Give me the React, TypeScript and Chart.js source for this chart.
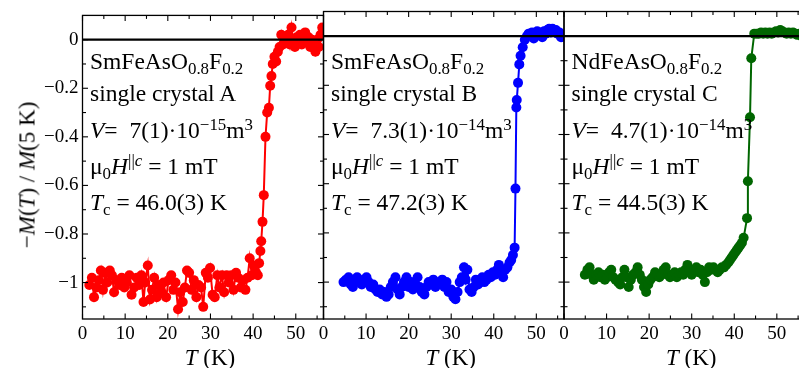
import React, { useEffect, useRef } from 'react';
import Chart from 'chart.js/auto';

// ---- data ----
const xTickValues = [0, 10, 20, 30, 40, 50];
const xTickLabels = ['0', '10', '20', '30', '40', '50'];
const xMinorValues = [5, 15, 25, 35, 45, 55];
const yTickValues = [0, -0.2, -0.4, -0.6, -0.8, -1];
const yTickLabels = ['0', '\u22120.2', '\u22120.4', '\u22120.6', '\u22120.8', '\u22121'];
const yMinorValues = [-0.1, -0.3, -0.5, -0.7, -0.9, -1.1];

const tA = [1.6, 2.2, 2.7, 3.3, 3.8, 4.3, 4.8, 5.3, 5.8, 6.4, 6.9, 7.4, 8.0, 8.6, 9.2, 9.8, 10.4, 11.0, 11.5, 12.1, 12.7, 13.3, 13.8, 14.3, 14.7, 15.3, 15.8, 16.3, 16.8, 17.4, 17.9, 18.5, 19.0, 19.6, 20.2, 20.8, 21.3, 21.8, 22.4, 22.9, 23.5, 24.0, 24.5, 25.0, 25.6, 26.1, 26.7, 27.2, 27.8, 28.3, 28.9, 29.4, 29.9, 30.5, 31.0, 31.6, 32.1, 32.7, 33.2, 33.8, 34.3, 34.9, 35.4, 36.0, 36.5, 37.1, 37.6, 38.2, 38.7, 39.2, 39.7, 40.2, 40.7, 41.1, 41.4, 41.7, 41.9, 42.2, 42.5, 42.9, 43.3, 43.7, 44.0, 44.3, 44.6, 45.0, 45.4, 45.8, 46.2, 46.6, 47.0, 47.4, 47.8, 48.2, 48.6, 49.0, 49.4, 49.8, 50.2, 50.6, 51.0, 51.4, 51.8, 52.2, 52.6, 53.0, 53.4, 53.8, 54.2, 54.6, 55.0, 55.4, 55.8, 56.2];
const mA = [-1.01, -0.98, -1.06, -1.02, -0.99, -0.95, -1.03, -0.96, -1.0, -0.95, -0.97, -1.04, -0.99, -1.01, -0.98, -1.02, -1.0, -0.97, -1.05, -1.02, -0.98, -1.01, -0.97, -1.08, -1.0, -0.93, -1.07, -1.03, -0.98, -1.06, -1.01, -1.04, -1.0, -1.06, -0.99, -0.97, -1.03, -1.0, -1.11, -1.04, -1.08, -1.02, -0.95, -0.96, -1.03, -0.99, -1.06, -1.01, -1.02, -1.1, -0.96, -0.98, -0.94, -1.05, -1.06, -0.97, -1.02, -0.97, -1.04, -0.97, -1.0, -0.97, -1.03, -0.96, -0.98, -1.02, -0.99, -1.03, -0.98, -0.9, -0.97, -0.93, -0.96, -0.97, -0.92, -0.87, -0.83, -0.75, -0.64, -0.4, -0.3, -0.28, -0.19, -0.15, -0.1, -0.07, -0.09, -0.05, -0.03, 0.02, -0.02, 0.01, -0.01, 0.02, -0.02, 0.05, 0.0, -0.03, 0.01, -0.01, 0.02, -0.02, 0.0, 0.03, -0.01, 0.01, -0.03, 0.0, -0.02, -0.05, 0.0, -0.03, 0.02, 0.05];

const tB = [4.7, 5.3, 5.9, 6.4, 6.9, 7.4, 7.9, 8.5, 9.0, 9.5, 10.1, 10.6, 11.1, 11.7, 12.2, 12.7, 13.2, 13.8, 14.3, 14.8, 15.3, 15.8, 16.3, 16.9, 17.4, 17.9, 18.4, 18.9, 19.5, 20.0, 20.5, 21.0, 21.6, 22.1, 22.6, 23.1, 23.7, 24.2, 24.7, 25.2, 25.8, 26.3, 26.8, 27.3, 27.9, 28.4, 28.9, 29.4, 30.0, 30.5, 31.0, 31.5, 32.0, 32.5, 33.0, 33.4, 33.8, 34.3, 34.8, 35.3, 35.8, 36.3, 36.8, 37.3, 37.8, 38.3, 38.8, 39.3, 39.8, 40.3, 40.8, 41.2, 41.7, 42.2, 42.7, 43.2, 43.7, 44.1, 44.5, 44.9, 45.1, 45.3, 45.4, 45.7, 46.0, 46.3, 46.8, 47.3, 47.8, 48.2, 48.6, 49.0, 49.4, 49.8, 50.2, 50.6, 51.0, 51.4, 51.8, 52.2, 52.6, 53.0, 53.4, 53.8, 54.2, 54.6, 55.0, 55.4, 55.8, 56.2];
const mB = [-1.0, -0.99, -0.98, -1.01, -1.02, -0.99, -0.98, -1.0, -1.01, -0.99, -0.98, -1.0, -1.02, -1.01, -1.03, -1.04, -1.03, -1.05, -1.04, -1.06, -1.05, -1.02, -1.0, -0.98, -1.03, -1.05, -1.02, -1.0, -0.98, -1.02, -1.0, -1.03, -1.01, -0.98, -1.02, -1.04, -1.05, -1.02, -1.0, -1.01, -0.99, -1.02, -1.01, -1.0, -0.99, -1.02, -1.0, -1.04, -1.03, -1.06, -1.07, -1.04, -1.0, -0.98, -0.94, -0.99, -0.95, -1.03, -1.04, -1.02, -0.99, -1.01, -1.0, -0.98, -1.0, -0.99, -0.97, -0.98, -0.96, -0.97, -0.95, -0.93, -0.96, -0.98, -0.95, -0.94, -0.92, -0.91, -0.89, -0.86, -0.62, -0.29, -0.26, -0.19, -0.115, -0.08, -0.045, -0.015, 0.0, 0.01, 0.005, 0.015, -0.01, 0.01, 0.02, 0.005, 0.015, -0.005, 0.02, 0.01, 0.025, 0.03, 0.015, 0.03, 0.02, 0.025, 0.01, 0.015, -0.005, 0.0];

const tC = [4.9, 5.5, 6.0, 6.5, 7.0, 7.5, 8.1, 8.6, 9.1, 9.6, 10.1, 10.6, 11.1, 11.6, 12.1, 12.7, 13.2, 13.7, 14.2, 14.7, 15.2, 15.7, 16.2, 16.8, 17.3, 17.8, 18.3, 18.8, 19.3, 19.8, 20.3, 20.8, 21.4, 21.9, 22.4, 22.9, 23.4, 23.9, 24.4, 24.9, 25.5, 26.0, 26.5, 27.0, 27.5, 28.0, 28.5, 29.0, 29.5, 30.0, 30.6, 31.1, 31.6, 32.1, 32.6, 33.1, 33.6, 34.1, 34.6, 35.1, 35.6, 36.1, 36.6, 37.1, 37.6, 38.1, 38.6, 39.0, 39.4, 39.8, 40.2, 40.6, 41.0, 41.4, 41.8, 42.2, 43.0, 43.2, 43.7, 44.0, 44.7, 45.3, 45.8, 46.3, 46.8, 47.3, 47.8, 48.3, 48.8, 49.3, 49.8, 50.3, 50.8, 51.3, 51.8, 52.3, 52.8, 53.3, 53.8, 54.3, 54.8, 55.3, 55.8, 56.3];
const mC = [-0.97, -0.95, -0.94, -0.97, -0.99, -0.97, -0.96, -0.98, -0.97, -0.99, -0.98, -0.96, -0.95, -0.98, -0.99, -1.0, -1.01, -0.98, -0.95, -0.98, -1.02, -0.99, -0.97, -0.96, -0.94, -0.97, -0.99, -1.02, -1.04, -1.01, -0.99, -0.98, -0.96, -0.97, -0.98, -0.97, -0.95, -0.94, -0.97, -0.98, -0.97, -0.96, -0.98, -0.97, -0.96, -0.97, -0.95, -0.93, -0.95, -0.97, -0.95, -0.94, -0.96, -0.95, -0.97, -1.0, -0.96, -0.94, -0.95, -0.94, -0.95, -0.96, -0.95, -0.94, -0.94, -0.93, -0.92, -0.91, -0.9, -0.89, -0.88, -0.87, -0.86, -0.85, -0.84, -0.82, -0.74, -0.59, -0.33, -0.09, 0.01, 0.01, 0.01, 0.015, 0.01, 0.015, 0.01, 0.015, 0.01, 0.015, 0.02, 0.015, 0.025, 0.02, 0.015, 0.01, 0.015, 0.01, 0.015, 0.01, 0.005, 0.01, 0.0, 0.005];

// ---- layout ----
const W = 810;
const H = 368;
const X_MIN = 0;
const X_MAX = 56.5;
const Y_MIN = -1.15;
const Y_MAX = 0.1;
const SERIF = '"Liberation Serif", "Times New Roman", serif';

const panels = [
  { t: tA, m: mA, color: '#ff0000', left: 82.5, right: 323.5, showY: true },
  { t: tB, m: mB, color: '#0000ff', left: 323.5, right: 564, showY: false },
  { t: tC, m: mC, color: '#006600', left: 564, right: 804.5, showY: false },
];

const framePlugin = {
  id: 'frameTicks',
  afterDatasetsDraw(chart: any) {
    const { ctx, chartArea, scales } = chart;
    const { left, right, top, bottom } = chartArea;
    const x = scales.x;
    const y = scales.y;
    ctx.save();
    ctx.strokeStyle = '#000';
    const seg = (x1: number, y1: number, x2: number, y2: number) => {
      ctx.beginPath();
      ctx.moveTo(x1, y1);
      ctx.lineTo(x2, y2);
      ctx.stroke();
    };
    // zero line
    ctx.lineWidth = 2.2;
    const y0 = y.getPixelForValue(0);
    seg(left, y0, right, y0);
    // frame
    ctx.lineWidth = 1.3;
    ctx.strokeRect(left, top, right - left, bottom - top);
    const MAJ = 5.5;
    const MIN = 3.5;
    ctx.lineWidth = 1.1;
    xTickValues.forEach((v) => {
      const p = x.getPixelForValue(v);
      seg(p, bottom, p, bottom - MAJ);
      seg(p, top, p, top + MAJ);
    });
    xMinorValues.forEach((v) => {
      const p = x.getPixelForValue(v);
      seg(p, bottom, p, bottom - MIN);
      seg(p, top, p, top + MIN);
    });
    yTickValues.forEach((v) => {
      const p = y.getPixelForValue(v);
      seg(left, p, left + MAJ, p);
      seg(right, p, right - MAJ, p);
    });
    yMinorValues.forEach((v) => {
      const p = y.getPixelForValue(v);
      seg(left, p, left + MIN, p);
      seg(right, p, right - MIN, p);
    });
    ctx.restore();
  },
};

function makeConfig(p: (typeof panels)[number]): any {
  return {
    type: 'scatter',
    data: {
      datasets: [
        {
          data: p.t.map((tv, i) => ({ x: tv, y: p.m[i] })),
          showLine: true,
          borderColor: p.color,
          backgroundColor: p.color,
          borderWidth: 2,
          pointRadius: 5,
          pointBorderWidth: 0,
          pointHoverRadius: 5,
          clip: 0,
        },
      ],
    },
    options: {
      animation: false,
      responsive: false,
      devicePixelRatio: 1,
      events: [],
      layout: {
        padding: { left: p.showY ? 0 : p.left, right: W - p.right, top: 11.5, bottom: 0 },
      },
      plugins: { legend: { display: false }, tooltip: { enabled: false } },
      scales: {
        x: {
          type: 'linear',
          min: X_MIN,
          max: X_MAX,
          afterBuildTicks: (s: any) => {
            s.ticks = xTickValues.map((v) => ({ value: v }));
          },
          afterFit: (s: any) => {
            s.height = 49;
          },
          ticks: {
            callback: (v: number) => xTickLabels[xTickValues.indexOf(v)] ?? '',
            font: { family: SERIF, size: 19 },
            color: '#000',
            padding: 4,
            maxRotation: 0,
            autoSkip: false,
          },
          grid: { display: false, drawTicks: false },
          border: { display: false },
        },
        y: {
          type: 'linear',
          min: Y_MIN,
          max: Y_MAX,
          afterBuildTicks: (s: any) => {
            s.ticks = yTickValues.map((v) => ({ value: v }));
          },
          afterFit: (s: any) => {
            s.width = p.showY ? p.left : 0;
          },
          ticks: {
            display: p.showY,
            callback: (v: number) => yTickLabels[yTickValues.indexOf(v)] ?? '',
            font: { family: SERIF, size: 19 },
            color: '#000',
            padding: 4,
            autoSkip: false,
          },
          grid: { display: false, drawTicks: false },
          border: { display: false },
        },
      },
    },
    plugins: [framePlugin],
  };
}

const FS = 23.5;
const BASE = 0.8375; // baseline offset (em) for line-height 1
const lineBaselines = [69.5, 102, 139, 175, 211];

const Sub = ({ children }: any) => (
  <span style={{ fontSize: '0.72em', position: 'relative', top: '0.28em' }}>{children}</span>
);
const Sup = ({ children }: any) => (
  <span style={{ fontSize: '0.72em', position: 'relative', top: '-0.5em' }}>{children}</span>
);

const panelTexts = [
  {
    compound: ['SmFeAsO', 'F'],
    crystal: 'single crystal A',
    volume: '7(1)\u00b710',
    volExp: '\u221215',
    tc: '46.0(3) K',
  },
  {
    compound: ['SmFeAsO', 'F'],
    crystal: 'single crystal B',
    volume: '7.3(1)\u00b710',
    volExp: '\u221214',
    tc: '47.2(3) K',
  },
  {
    compound: ['NdFeAsO', 'F'],
    crystal: 'single crystal C',
    volume: '4.7(1)\u00b710',
    volExp: '\u221214',
    tc: '44.5(3) K',
  },
];

function PanelText({ idx }: { idx: number }) {
  const p = panels[idx];
  const tx = panelTexts[idx];
  const left = p.left + 7.5;
  const lines = [
    <>
      {tx.compound[0]}
      <Sub>0.8</Sub>
      {tx.compound[1]}
      <Sub>0.2</Sub>
    </>,
    <>{tx.crystal}</>,
    <>
      <i>V</i>={'\u00a0 '}
      {tx.volume}
      <Sup>{tx.volExp}</Sup>m<Sup>3</Sup>
    </>,
    <>
      {'\u03bc'}
      <Sub>0</Sub>
      <i>H</i>
      <Sup>
        ||<i>c</i>
      </Sup>{' '}
      = 1 mT
    </>,
    <>
      <i>T</i>
      <Sub>c</Sub> = {tx.tc}
    </>,
  ];
  return (
    <>
      {lines.map((ln, i) => (
        <div
          key={i}
          style={{
            position: 'absolute',
            left,
            top: lineBaselines[i] - BASE * FS,
            fontFamily: SERIF,
            fontSize: FS,
            lineHeight: 1,
            whiteSpace: 'nowrap',
            color: '#000',
          }}
        >
          {ln}
        </div>
      ))}
    </>
  );
}

export default function App() {
  const r0 = useRef<HTMLCanvasElement>(null);
  const r1 = useRef<HTMLCanvasElement>(null);
  const r2 = useRef<HTMLCanvasElement>(null);
  const refs = [r0, r1, r2];

  useEffect(() => {
    const charts = panels.map((p, i) => new Chart(refs[i].current as HTMLCanvasElement, makeConfig(p)));
    return () => charts.forEach((c) => c.destroy());
  }, []);

  const TFS = 23;
  return (
    <div
      style={{
        position: 'fixed',
        left: 0,
        top: 0,
        width: 799,
        height: 368,
        overflow: 'hidden',
        background: '#fff',
      }}
    >
      {panels.map((p, i) => (
        <canvas
          key={i}
          ref={refs[i]}
          width={W}
          height={H}
          style={{ position: 'absolute', left: 0, top: 0, width: W, height: H }}
        />
      ))}
      {panels.map((p, i) => (
        <PanelText key={'t' + i} idx={i} />
      ))}
      {panels.map((p, i) => (
        <div
          key={'x' + i}
          style={{
            position: 'absolute',
            left: (p.left + p.right) / 2 + 7,
            top: 365 - BASE * TFS,
            transform: 'translateX(-50%)',
            fontFamily: SERIF,
            fontSize: TFS,
            lineHeight: 1,
            whiteSpace: 'nowrap',
          }}
        >
          <i>T</i> (K)
        </div>
      ))}
      <div
        style={{
          position: 'absolute',
          left: 27,
          top: 175,
          transform: 'translate(-50%, -50%) rotate(-90deg)',
          fontFamily: SERIF,
          fontSize: TFS,
          lineHeight: 1,
          whiteSpace: 'nowrap',
        }}
      >
        {'\u2212'}
        <i>M</i>(<i>T</i>) / <i>M</i>(5 K)
      </div>
    </div>
  );
}
